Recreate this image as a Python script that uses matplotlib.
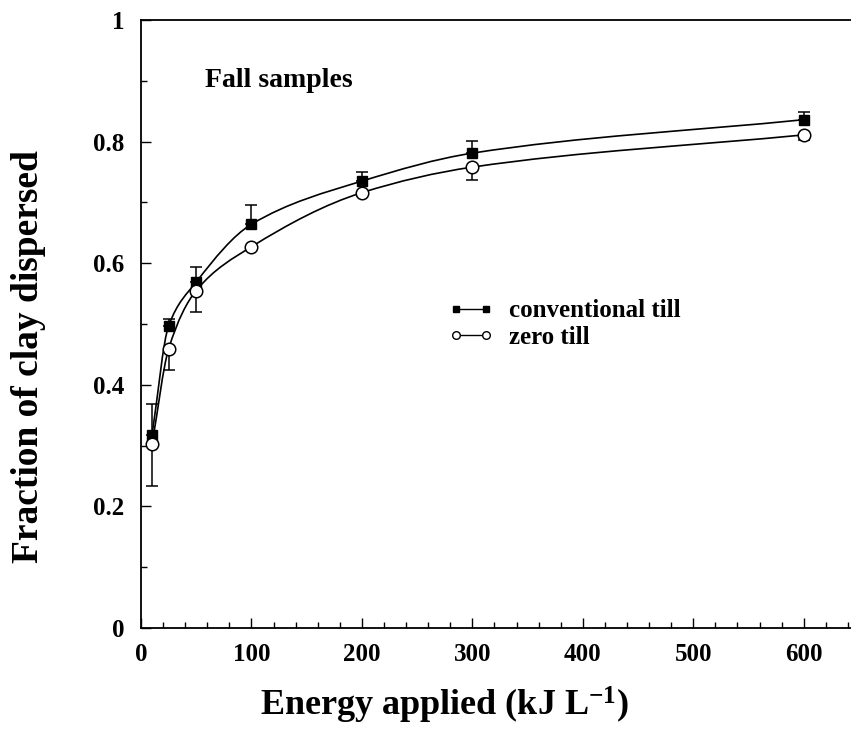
import numpy as np
import matplotlib
matplotlib.use('Agg')
import matplotlib.pyplot as plt
from matplotlib.path import Path
from matplotlib.patches import PathPatch
from matplotlib.ticker import MultipleLocator

plt.rcParams['font.family'] = ['Liberation Serif', 'DejaVu Serif']
plt.rcParams['font.weight'] = 'bold'
plt.rcParams['mathtext.fontset'] = 'custom'
plt.rcParams['mathtext.rm'] = 'Liberation Serif:bold'
plt.rcParams['mathtext.it'] = 'Liberation Serif:bold'
plt.rcParams['mathtext.bf'] = 'Liberation Serif:bold'

# energy applied (kJ/L)
energy = [10, 25, 50, 100, 200, 300, 600]
# conventional till, fraction dispersed and error (drawn upward)
conv = [0.318, 0.497, 0.569, 0.664, 0.735, 0.781, 0.836]
conv_err = [0.050, 0.012, 0.025, 0.032, 0.015, 0.020, 0.012]
# zero till, fraction dispersed and error (drawn downward)
zero = [0.302, 0.459, 0.555, 0.627, 0.716, 0.758, 0.811]
zero_err = [0.068, 0.035, 0.035, 0.005, 0.005, 0.022, 0.008]


def smooth_path(x, y):
    # monotone cubic hermite written as bezier segments
    x = np.asarray(x, float)
    y = np.asarray(y, float)
    h = np.diff(x)
    d = np.diff(y) / h
    m = np.zeros_like(y)
    m[0] = d[0]
    m[-1] = d[-1]
    for i in range(1, len(x) - 1):
        if d[i - 1] * d[i] <= 0:
            m[i] = 0
        else:
            w1 = 2 * h[i] + h[i - 1]
            w2 = h[i] + 2 * h[i - 1]
            m[i] = (w1 + w2) / (w1 / d[i - 1] + w2 / d[i])
    verts = [(x[0], y[0])]
    codes = [Path.MOVETO]
    for i in range(len(x) - 1):
        verts += [(x[i] + h[i] / 3, y[i] + m[i] * h[i] / 3),
                  (x[i + 1] - h[i] / 3, y[i + 1] - m[i + 1] * h[i] / 3),
                  (x[i + 1], y[i + 1])]
        codes += [Path.CURVE4] * 3
    return Path(verts, codes)


fig = plt.figure(figsize=(8.51, 7.40), dpi=100)
ax = fig.add_axes([0.1657, 0.1514, 0.8437, 0.8216])

ax.add_patch(PathPatch(smooth_path(energy, conv), fill=False, lw=1.2, color='black'))
ax.add_patch(PathPatch(smooth_path(energy, zero), fill=False, lw=1.2, color='black'))

ax.errorbar(energy, conv, yerr=[np.zeros(len(conv)), conv_err], fmt='none',
            ecolor='black', elinewidth=1.1, capsize=4, capthick=1.1, zorder=3)
ax.errorbar(energy, zero, yerr=[zero_err, np.zeros(len(zero))], fmt='none',
            ecolor='black', elinewidth=1.1, capsize=4, capthick=1.1, zorder=3)

ax.plot(energy, conv, 's', color='black', ms=6.5, zorder=4)
ax.plot(energy, zero, 'o', mfc='white', mec='black', mew=1.1, ms=9, zorder=4)

# legend handles
ax.plot([], [], 's-', color='black', ms=4.5, lw=1.0, label='conventional till')
ax.plot([], [], 'o-', color='black', mfc='white', ms=5.5, mew=1.0, lw=1.0, label='zero till')
handles, labels = ax.get_legend_handles_labels()
ax.legend(handles, labels, loc='upper left', bbox_to_anchor=(0.415, 0.557),
          frameon=False, numpoints=2, handlelength=1.8, handletextpad=0.6,
          labelspacing=0.15, fontsize=18, borderaxespad=0)

ax.text(58, 0.90, 'Fall samples', fontsize=20, fontweight='bold', va='center')

ax.set_xlim(0, 650)
ax.set_ylim(0, 1)
ax.xaxis.set_major_locator(MultipleLocator(100))
ax.xaxis.set_minor_locator(MultipleLocator(20))
ax.yaxis.set_major_locator(MultipleLocator(0.2))
ax.yaxis.set_minor_locator(MultipleLocator(0.1))
ax.set_xticks([0, 100, 200, 300, 400, 500, 600])
ax.set_xticklabels(['0', '100', '200', '300', '400', '500', '600'])
ax.set_yticks([0, 0.2, 0.4, 0.6, 0.8, 1.0])
ax.set_yticklabels(['0', '0.2', '0.4', '0.6', '0.8', '1'])
ax.tick_params(which='both', direction='in', width=1.0, labelsize=18)
ax.tick_params(which='major', length=7)
ax.tick_params(which='minor', length=4)
ax.tick_params(axis='x', pad=11)
ax.tick_params(axis='y', pad=12)
ax.spines['right'].set_visible(False)
for s in ['left', 'bottom', 'top']:
    ax.spines[s].set_linewidth(1.3)

ax.set_xlabel('Energy applied (kJ L$^{-1}$)', fontsize=26, fontweight='bold')
ax.set_ylabel('Fraction of clay dispersed', fontsize=27, fontweight='bold')
ax.xaxis.set_label_coords(0.423, -0.093)
ax.yaxis.set_label_coords(-0.132, 0.446)

fig.savefig('out.png', dpi=100)
